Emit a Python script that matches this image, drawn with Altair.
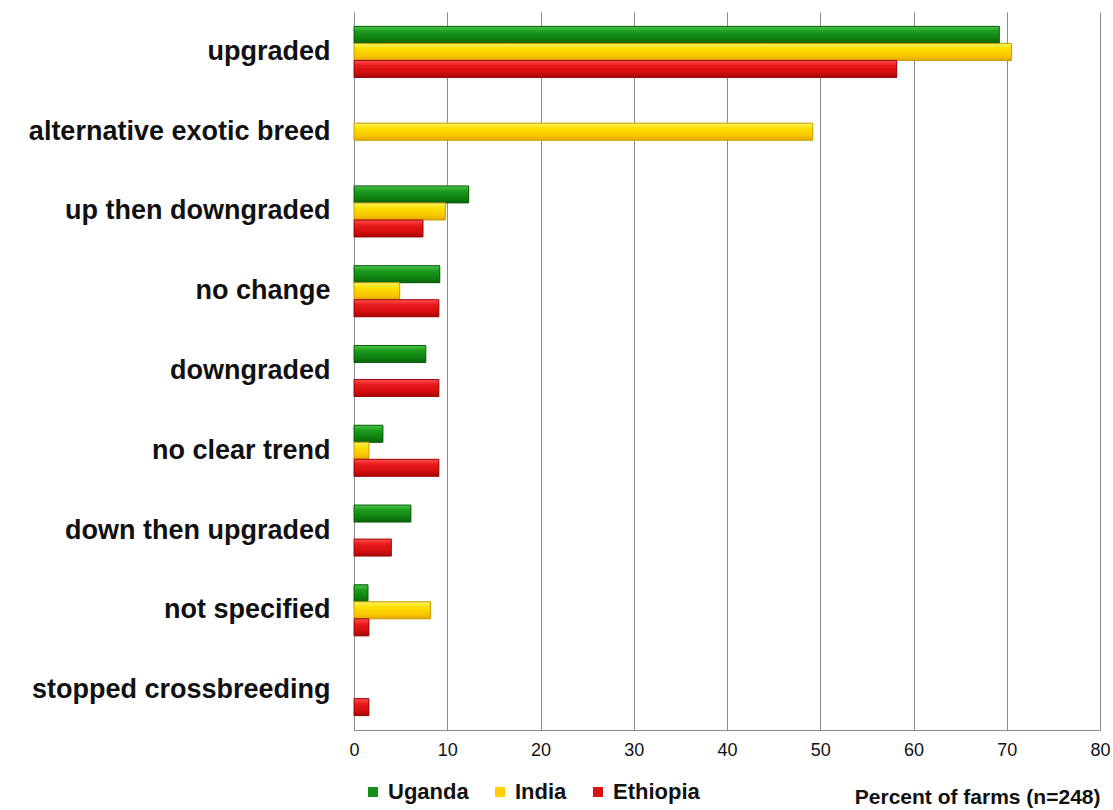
import altair as alt
import pandas as pd

categories = ["upgraded", "alternative exotic breed", "up then downgraded", "no change",
              "downgraded", "no clear trend", "down then upgraded", "not specified",
              "stopped crossbreeding"]
series = ["Uganda", "India", "Ethiopia"]
uganda = [69.2, 0, 12.3, 9.2, 7.7, 3.1, 6.1, 1.5, 0]
india = [70.5, 49.2, 9.8, 4.9, 0, 1.6, 0, 8.2, 0]
ethiopia = [58.2, 0, 7.4, 9.1, 9.1, 9.1, 4.0, 1.6, 1.6]
colors = ["#17901b", "#ffcf00", "#dd1111"]
strokes = ["#0b5e0b", "#c79b00", "#9a0a0a"]
gradients = [
    ["#4cc64c", "#1c9c1c", "#0f820f", "#0a620a"],
    ["#fff46a", "#ffe000", "#f9c800", "#e5a900"],
    ["#ff5252", "#ea1a1a", "#d20e0e", "#a80606"],
]

rows = []
for s, vals in zip(series, [uganda, india, ethiopia]):
    for c, v in zip(categories, vals):
        if v > 0:
            rows.append({"category": c, "country": s, "value": v})
df = pd.DataFrame(rows)

x_enc = alt.X("value:Q", scale=alt.Scale(domain=[0, 80], nice=False),
              axis=alt.Axis(values=list(range(0, 81, 10)), title="Percent of farms (n=248)",
                            grid=True, gridColor="#8a8a8a", gridWidth=1, ticks=False,
                            domainColor="#8a8a8a", labelFont="Liberation Sans", labelFontSize=18,
                            labelColor="#111", labelPadding=11, labelFlush=False,
                            titleFont="Liberation Sans", titleFontSize=21, titleFontWeight="bold",
                            titleColor="#111", titleAlign="right", titleAnchor="end",
                            titleX=746, titleY=73, titleBaseline="alphabetic"))
y_enc = alt.Y("category:N", sort=categories,
              scale=alt.Scale(paddingInner=0.36, paddingOuter=0.18),
              axis=alt.Axis(title=None, ticks=False, domainColor="#8a8a8a",
                            labelFont="Liberation Sans", labelFontSize=27, labelFontWeight="bold",
                            labelColor="#111", labelPadding=24, labelLimit=400))
yo_enc = alt.YOffset("country:N", sort=series,
                     scale=alt.Scale(domain=series, paddingInner=0, paddingOuter=0))

base = alt.Chart(df).mark_bar(strokeWidth=1).encode(
    x=x_enc, y=y_enc, yOffset=yo_enc,
    color=alt.Color("country:N", scale=alt.Scale(domain=series, range=colors),
                    legend=alt.Legend(title=None, orient="none", direction="horizontal",
                                      legendX=8, legendY=769, padding=0, symbolType="square",
                                      symbolSize=100, symbolStrokeWidth=0,
                                      labelFont="Liberation Sans", labelFontSize=22,
                                      labelFontWeight="bold", labelColor="#111",
                                      columnPadding=20, labelOffset=4)),
)

layers = [base]
for s, g, st in zip(series, gradients, strokes):
    grad = alt.LinearGradient(
        gradient="linear", x1=0, y1=0, x2=0, y2=1,
        stops=[alt.GradientStop(offset=0, color=g[0]),
               alt.GradientStop(offset=0.3, color=g[1]),
               alt.GradientStop(offset=0.7, color=g[2]),
               alt.GradientStop(offset=1, color=g[3])])
    layers.append(
        alt.Chart(df).transform_filter(alt.datum.country == s).mark_bar(
            color=grad, stroke=st, strokeWidth=1
        ).encode(x="value:Q", y=alt.Y("category:N", sort=categories), yOffset=yo_enc)
    )

chart = alt.layer(*layers).properties(
    width=746, height=718,
    autosize=alt.AutoSizeParams(type="none"),
    padding={"left": 354, "top": 12, "right": 13, "bottom": 80},
).configure(background="white").configure_view(stroke=None)

chart.save("out.html", embed_options={"renderer": "svg", "actions": False})
